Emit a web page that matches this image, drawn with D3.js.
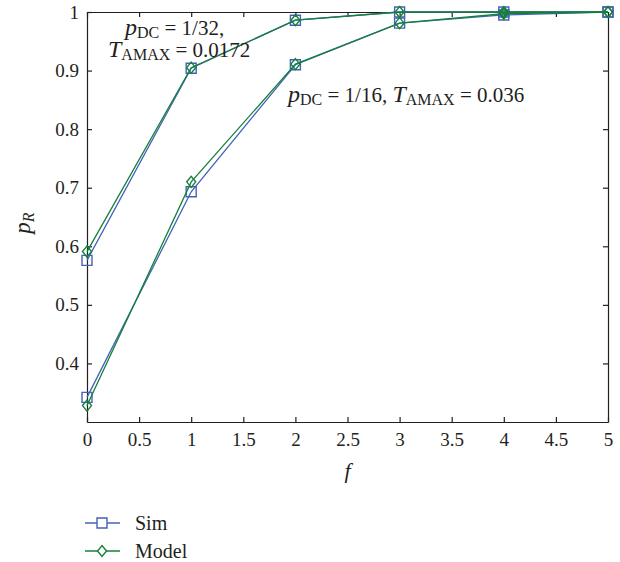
<head>
  <title>PR vs f</title>
  <style>
    body { margin: 0; background: white; }
    svg text { font-family: "Liberation Serif", serif; fill: #231f20; }
    .axis path, .axis line { stroke: #231f20; stroke-width: 1.2; }
  </style>
</head>
<body>
  <div id="chart"></div>
  <script src="https://cdn.jsdelivr.net/npm/d3@7"></script>
  <script>
    // data
    const fValues = [0, 1, 2, 3, 4, 5];
    const simDC32 = [0.576, 0.904, 0.986, 1.0, 1.0, 1.0];
    const modelDC32 = [0.591, 0.905, 0.986, 1.0, 1.0, 1.0];
    const simDC16 = [0.342, 0.693, 0.910, 0.981, 0.995, 1.0];
    const modelDC16 = [0.328, 0.710, 0.911, 0.981, 0.997, 1.0];
    const xTicks = [0, 0.5, 1, 1.5, 2, 2.5, 3, 3.5, 4, 4.5, 5];
    const xTickLabels = ["0", "0.5", "1", "1.5", "2", "2.5", "3", "3.5", "4", "4.5", "5"];
    const yTicks = [0.4, 0.5, 0.6, 0.7, 0.8, 0.9, 1];
    const yTickLabels = ["0.4", "0.5", "0.6", "0.7", "0.8", "0.9", "1"];

    const simColor = "#4362b8";
    const modelColor = "#14803a";
    const serif = "Liberation Serif";

    const width = 620, height = 562;
    const margin = {left: 87, top: 12, right: 12, bottom: 140};
    const iw = width - margin.left - margin.right;
    const ih = height - margin.top - margin.bottom;

    const svg = d3.select("#chart").append("svg")
      .attr("width", width).attr("height", height)
      .attr("font-family", serif);

    const x = d3.scaleLinear().domain([0, 5]).range([0, iw]);
    const y = d3.scaleLinear().domain([0.3, 1]).range([ih, 0]);

    const g = svg.append("g").attr("transform", `translate(${margin.left},${margin.top})`);

    // axes, ticks pointing inward
    const styleAxis = sel => sel.attr("font-family", serif).attr("font-size", 19);
    g.append("g").attr("class", "axis")
      .attr("transform", `translate(0,${ih})`)
      .call(d3.axisBottom(x).tickValues(xTicks).tickSize(-5).tickSizeOuter(0).tickPadding(11)
        .tickFormat((d, i) => xTickLabels[i]))
      .call(styleAxis);
    g.append("g").attr("class", "axis")
      .call(d3.axisTop(x).tickValues(xTicks).tickSize(-5).tickSizeOuter(0).tickFormat(""));
    g.append("g").attr("class", "axis")
      .call(d3.axisLeft(y).tickValues(yTicks).tickSize(-5).tickSizeOuter(0).tickPadding(8)
        .tickFormat((d, i) => yTickLabels[i]))
      .call(styleAxis);
    g.append("g").attr("class", "axis")
      .attr("transform", `translate(${iw},0)`)
      .call(d3.axisRight(y).tickValues(yTicks).tickSize(-5).tickSizeOuter(0).tickFormat(""));
    g.selectAll(".axis .domain").attr("fill", "none");

    const line = d3.line().x((d, i) => x(fValues[i])).y(d => y(d));

    function drawSeries(values, color, shape) {
      g.append("path").datum(values)
        .attr("d", line)
        .attr("fill", "none")
        .attr("stroke", color)
        .attr("stroke-width", 1.3);
      g.selectAll(null).data(values).enter().append("path")
        .attr("transform", (d, i) => `translate(${x(fValues[i])},${y(d)})`)
        .attr("d", shape)
        .attr("fill", "none")
        .attr("stroke", color)
        .attr("stroke-width", 1.4);
    }

    const square = "M-5,-5H5V5H-5Z";
    const diamond = "M0,-5.5L4.5,0L0,5.5L-4.5,0Z";

    drawSeries(simDC16, simColor, square);
    drawSeries(simDC32, simColor, square);
    drawSeries(modelDC16, modelColor, diamond);
    drawSeries(modelDC32, modelColor, diamond);

    // annotations
    function label(parent, px, py, parts) {
      const t = parent.append("text").attr("x", px).attr("y", py).attr("font-size", 21);
      parts.forEach(p => {
        const s = t.append("tspan").text(p.t);
        if (p.i) s.attr("font-style", "italic").attr("font-size", 24);
        if (p.sub) s.attr("font-size", 16);
        if (p.dy) s.attr("dy", p.dy);
      });
      return t;
    }
    label(svg, 125, 35, [{t: "p", i: true}, {t: "DC", sub: true, dy: 3}, {t: " = 1/32,", dy: -3}]);
    label(svg, 108, 57, [{t: "T", i: true}, {t: "AMAX", sub: true, dy: 3}, {t: " = 0.0172", dy: -3}]);
    label(svg, 288, 102, [{t: "p", i: true}, {t: "DC", sub: true, dy: 3}, {t: " = 1/16, ", dy: -3},
      {t: "T", i: true}, {t: "AMAX", sub: true, dy: 3}, {t: " = 0.036", dy: -3}]);

    // axis titles
    svg.append("text")
      .attr("x", margin.left + iw / 2).attr("y", 478)
      .attr("text-anchor", "middle").attr("font-size", 22).attr("font-style", "italic")
      .text("f");
    const yl = svg.append("text")
      .attr("transform", `translate(30,${margin.top + ih / 2 + 6}) rotate(-90)`)
      .attr("text-anchor", "middle").attr("font-size", 23);
    yl.append("tspan").attr("font-style", "italic").text("p");
    yl.append("tspan").attr("font-style", "italic").attr("font-size", 16).attr("dy", 4).text("R");

    // legend
    const legendItems = [
      {name: "Sim", color: simColor, shape: square, y: 523},
      {name: "Model", color: modelColor, shape: diamond, y: 551}
    ];
    const lg = svg.append("g");
    legendItems.forEach(it => {
      lg.append("line").attr("x1", 85).attr("x2", 120).attr("y1", it.y).attr("y2", it.y)
        .attr("stroke", it.color).attr("stroke-width", 1.3);
      lg.append("path").attr("transform", `translate(102,${it.y})`).attr("d", it.shape)
        .attr("fill", "white").attr("stroke", it.color).attr("stroke-width", 1.4);
      lg.append("text").attr("x", 135).attr("y", it.y + 7).attr("font-size", 20).text(it.name);
    });
  </script>
</body>
